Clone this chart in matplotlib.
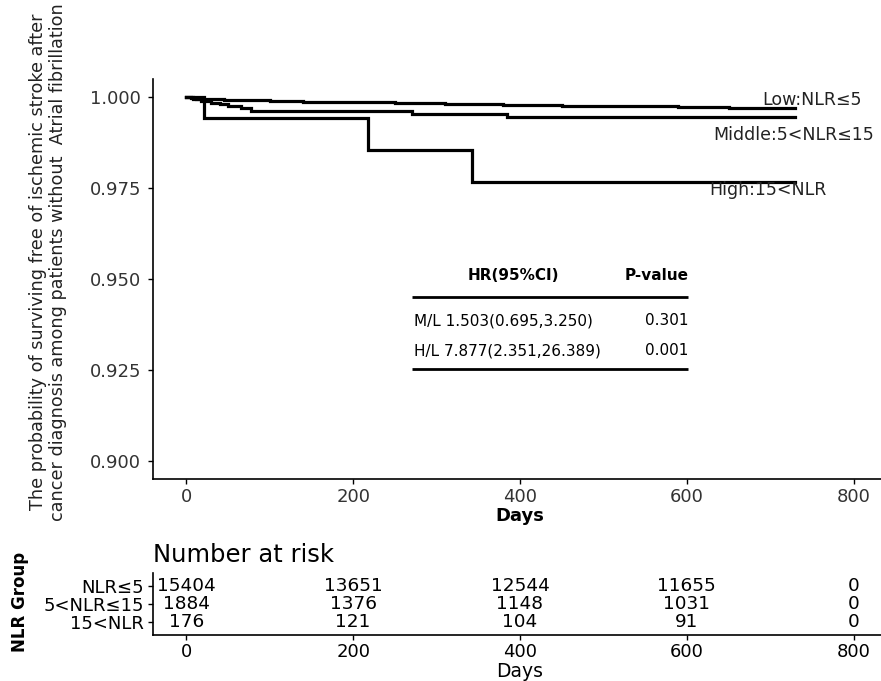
import matplotlib
matplotlib.use("Agg")
import matplotlib.pyplot as plt
import numpy as np

plt.rcParams['font.family'] = ['DejaVu Sans']

# ---- data ----
low_t = [0, 5, 12, 25, 45, 70, 100, 140, 190, 250, 310, 380, 450, 520, 590, 650, 700, 730]
low_s = [1.0, 0.9998, 0.9996, 0.9994, 0.9993, 0.9991, 0.9990, 0.9988, 0.9986, 0.9984,
         0.9982, 0.9979, 0.9977, 0.9975, 0.9973, 0.9971, 0.9970, 0.9970]
mid_t = [0, 8, 18, 30, 40, 50, 65, 78, 270, 385, 730]
mid_s = [1.0, 0.9995, 0.9990, 0.9985, 0.9980, 0.9975, 0.9969, 0.9963, 0.9955, 0.9946, 0.9946]
high_t = [0, 21, 218, 342, 730]
high_s = [1.0, 0.9943, 0.9855, 0.9767, 0.9767]

curve_labels = ["Low:NLR\u22645", "Middle:5<NLR\u226415", "High:15<NLR"]
label_x = [690, 632, 627]
label_y = [0.99917, 0.98950, 0.97438]

hr_header = ["HR(95%CI)", "P-value"]
hr_rows = ["M/L 1.503(0.695,3.250)", "H/L 7.877(2.351,26.389)"]
p_values = ["0.301", "0.001"]

risk_times = [0, 200, 400, 600, 800]
risk_groups = ["NLR\u22645", "5<NLR\u226415", "15<NLR"]
risk_counts = [
    [15404, 13651, 12544, 11655, 0],
    [1884, 1376, 1148, 1031, 0],
    [176, 121, 104, 91, 0],
]
y_ticks = [0.900, 0.925, 0.950, 0.975, 1.000]
x_ticks = [0, 200, 400, 600, 800]

W, H = 881, 681
fig = plt.figure(figsize=(W / 100, H / 100), dpi=100)

def fx(px):
    return px / W

def fy(py):
    return 1 - py / H

tick_color = "#333333"

# ---- main KM axes ----
ax = fig.add_axes([fx(153), fy(479), fx(887) - fx(153), fy(79) - fy(479)])
for t, s in [(low_t, low_s), (mid_t, mid_s), (high_t, high_s)]:
    ax.step(t, s, where='post', color='black', lw=2.3, solid_joinstyle='miter')
ax.set_xlim(-40, 840)
ax.set_ylim(0.895, 1.005)
ax.set_yticks(y_ticks)
ax.set_yticklabels([f"{v:.3f}" for v in y_ticks])
ax.set_xticks(x_ticks)
for side in ['top', 'right']:
    ax.spines[side].set_visible(False)
for side in ['left', 'bottom']:
    ax.spines[side].set_linewidth(1.2)
ax.tick_params(axis='both', length=3.5, width=1.0, labelsize=13, colors='black',
               labelcolor=tick_color, pad=3)
ax.tick_params(axis='y', pad=5)
ax.set_xlabel("Days", fontsize=13, fontweight='bold', labelpad=1)

for lx, ly, txt in zip(label_x, label_y, curve_labels):
    ax.text(lx, ly, txt, fontsize=12.5, ha='left', va='center', color='#222222')

# HR table
t_left, t_right = 270, 602
ax.text(392, 0.9510, hr_header[0], fontsize=11, fontweight='bold', ha='center', va='center')
ax.text(t_right, 0.9510, hr_header[1], fontsize=11, fontweight='bold', ha='right', va='center')
ax.plot([t_left, t_right], [0.9450, 0.9450], color='black', lw=2.0, solid_capstyle='butt')
ax.text(t_left + 3, 0.9385, hr_rows[0], fontsize=11, ha='left', va='center')
ax.text(t_right, 0.9385, p_values[0], fontsize=11, ha='right', va='center')
ax.text(t_left + 3, 0.9303, hr_rows[1], fontsize=11, ha='left', va='center')
ax.text(t_right, 0.9303, p_values[1], fontsize=11, ha='right', va='center')
ax.plot([t_left, t_right], [0.9253, 0.9253], color='black', lw=2.0, solid_capstyle='butt')

fig.text(fx(48), fy(262),
         "The probability of surviving free of ischemic stroke after\n"
         "cancer diagnosis among patients without  Atrial fibrillation",
         rotation=90, ha='center', va='center', fontsize=12.7, color='#222222',
         linespacing=1.08, multialignment='center')

# ---- risk table ----
tax = fig.add_axes([fx(153), fy(635), fx(887) - fx(153), fy(573) - fy(635)])
tax.set_xlim(-40, 840)
tax.set_ylim(0.3, 3.7)
ypos = [3, 2, 1]
for gi, row in enumerate(risk_counts):
    for xt, c in zip(risk_times, row):
        tax.text(xt, ypos[gi], str(c), fontsize=13.3, ha='center', va='center', color='black')
tax.set_yticks(ypos)
tax.set_yticklabels(risk_groups)
tax.set_xticks(x_ticks)
for side in ['top', 'right']:
    tax.spines[side].set_visible(False)
for side in ['left', 'bottom']:
    tax.spines[side].set_linewidth(1.2)
tax.tick_params(axis='both', length=3.5, width=1.0, labelsize=13, colors='black',
                labelcolor='black', pad=2)
tax.tick_params(axis='y', pad=3)
tax.set_xlabel("Days", fontsize=13.5, labelpad=1)
fig.text(fx(153), fy(555), "Number at risk", fontsize=17.5, ha='left', va='center')
fig.text(fx(20), fy(602), "NLR Group", rotation=90, fontsize=12, fontweight='bold',
         ha='center', va='center')

fig.savefig("out.png", dpi=100)
